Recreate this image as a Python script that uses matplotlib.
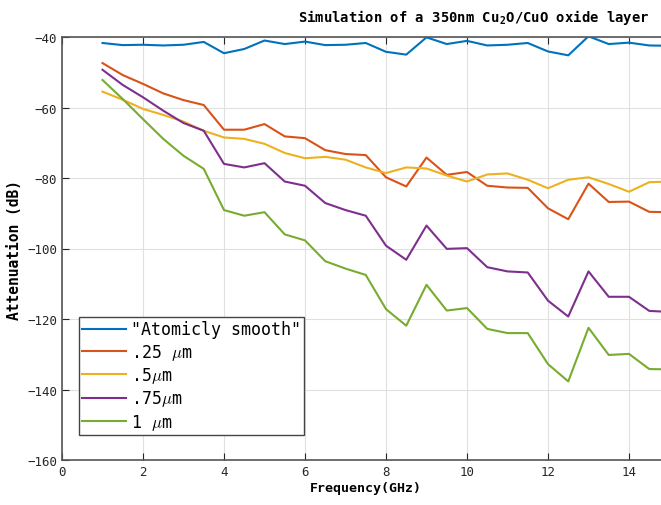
import numpy as np
import matplotlib
matplotlib.use('Agg')
from matplotlib import pyplot as plt

# 频率点 (GHz)
freq = np.arange(1, 15.01, 0.5)

smooth = [-41.7, -42.3, -42.2, -42.4, -42.2, -41.4, -44.6, -43.4, -41.0, -42.0,
          -41.3, -42.3, -42.2, -41.7, -44.2, -45.0, -40.1, -42.0, -41.1, -42.4,
          -42.2, -41.7, -44.1, -45.2, -39.8, -42.0, -41.6, -42.4, -42.5]
r025 = [-47.4, -50.8, -53.3, -56.0, -57.9, -59.3, -66.3, -66.3, -64.7, -68.2,
        -68.7, -72.1, -73.2, -73.5, -79.8, -82.4, -74.2, -79.1, -78.3, -82.2,
        -82.7, -82.8, -88.6, -91.7, -81.6, -86.8, -86.7, -89.6, -89.7]
r05 = [-55.5, -57.8, -60.4, -62.1, -64.0, -66.6, -68.5, -68.9, -70.3, -72.9,
       -74.4, -74.0, -74.8, -77.0, -78.6, -77.0, -77.3, -79.3, -81.0, -79.0,
       -78.7, -80.5, -82.9, -80.5, -79.8, -81.7, -83.9, -81.2, -81.0]
r075 = [-49.3, -53.6, -57.1, -60.9, -64.4, -66.6, -76.0, -77.0, -75.8, -81.0,
        -82.2, -87.1, -89.1, -90.7, -99.2, -103.2, -93.5, -100.1, -99.9, -105.3,
        -106.5, -106.8, -114.8, -119.3, -106.5, -113.7, -113.7, -117.7, -118.0]
r1 = [-52.2, -57.6, -63.3, -68.9, -73.7, -77.4, -89.1, -90.7, -89.7, -96.0,
      -97.7, -103.6, -105.7, -107.5, -117.2, -121.9, -110.3, -117.6, -116.9, -122.8,
      -124.0, -124.0, -132.8, -137.7, -122.5, -130.2, -129.9, -134.2, -134.3]

labels = ['"Atomicly smooth"', r'.25 $\mu$m', r'.5$\mu$m', r'.75$\mu$m', r'1 $\mu$m']
colors = ['#0072BD', '#D95319', '#EDB120', '#7E2F8E', '#77AC30']

plt.rcParams['font.family'] = 'DejaVu Sans Mono'
plt.rcParams['mathtext.fontset'] = 'cm'

fig = plt.figure(figsize=(6.61, 5.06), dpi=100)
ax = fig.add_axes([62/661, 45/506, (669.5-62)/661, 423/506])

for data, lab, c in zip([smooth, r025, r05, r075, r1], labels, colors):
    ax.plot(freq, data, color=c, lw=1.5, label=lab)

ax.set_xlim(0, 15)
ax.set_ylim(-160, -40)
ax.set_xticks(np.arange(0, 15, 2))
ax.set_yticks(np.arange(-160, -39, 20))
ax.grid(True, color='#e0e0e0', lw=0.8)
ax.set_axisbelow(True)
ax.tick_params(direction='in', top=True, right=True, length=5, labelsize=9,
               colors='#262626')
for s in ax.spines.values():
    s.set_color('#555555')
    s.set_linewidth(1.2)

ax.set_xlabel('Frequency(GHz)', fontsize=9.5, fontweight='bold', labelpad=2)
ax.set_ylabel('Attenuation (dB)', fontsize=10.5, fontweight='bold', labelpad=4)
fig.text(474/661, 1 - 22/506, r'Simulation of a 350nm Cu$_\mathregular{2}$O/CuO oxide layer',
         ha='center', va='baseline', fontsize=10, fontweight='bold')

leg = ax.legend(loc='lower left', bbox_to_anchor=((79-62)/607.5, (461-436)/423),
                fontsize=12, fancybox=False, framealpha=1, edgecolor='#444444',
                borderpad=0.2, labelspacing=0.2, handlelength=2.6, handletextpad=0.3,
                borderaxespad=0)
leg.get_frame().set_linewidth(1.0)

plt.savefig('out.png', dpi=100)
